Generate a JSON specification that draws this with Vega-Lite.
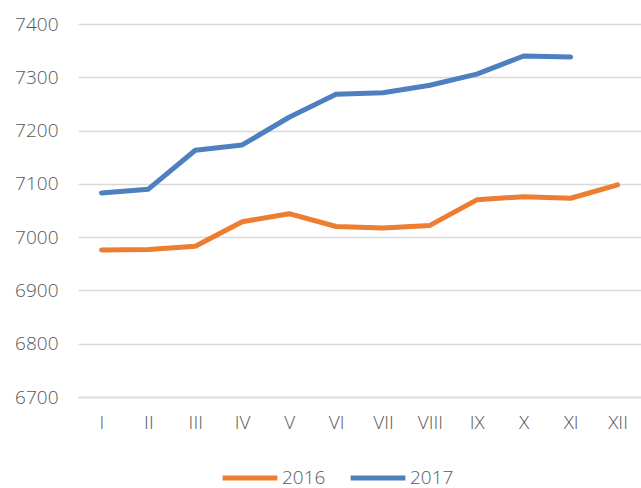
{
  "$schema": "https://vega.github.io/schema/vega-lite/v6.json",
  "width": 563,
  "height": 373,
  "autosize": {"type": "none"},
  "padding": {"left": 78, "top": 24, "right": 0, "bottom": 91},
  "background": "white",
  "config": {
    "view": {"stroke": null},
    "font": "Open Sans",
    "axis": {"labelFont": "Open Sans", "labelFontWeight": 300, "labelColor": "#595959", "labelFontSize": 19, "ticks": false, "title": null}
  },
  "data": {
    "values": [
      {"m": "I", "year": "2016", "v": 6976},
      {"m": "II", "year": "2016", "v": 6977},
      {"m": "III", "year": "2016", "v": 6983},
      {"m": "IV", "year": "2016", "v": 7029},
      {"m": "V", "year": "2016", "v": 7044},
      {"m": "VI", "year": "2016", "v": 7020},
      {"m": "VII", "year": "2016", "v": 7017},
      {"m": "VIII", "year": "2016", "v": 7022},
      {"m": "IX", "year": "2016", "v": 7070},
      {"m": "X", "year": "2016", "v": 7076},
      {"m": "XI", "year": "2016", "v": 7073},
      {"m": "XII", "year": "2016", "v": 7098},
      {"m": "I", "year": "2017", "v": 7083},
      {"m": "II", "year": "2017", "v": 7090},
      {"m": "III", "year": "2017", "v": 7163},
      {"m": "IV", "year": "2017", "v": 7173},
      {"m": "V", "year": "2017", "v": 7225},
      {"m": "VI", "year": "2017", "v": 7268},
      {"m": "VII", "year": "2017", "v": 7271},
      {"m": "VIII", "year": "2017", "v": 7285},
      {"m": "IX", "year": "2017", "v": 7306},
      {"m": "X", "year": "2017", "v": 7340},
      {"m": "XI", "year": "2017", "v": 7338}
    ]
  },
  "mark": {"type": "line", "strokeWidth": 5, "strokeCap": "round", "strokeJoin": "round"},
  "encoding": {
    "x": {
      "field": "m", "type": "ordinal",
      "sort": ["I","II","III","IV","V","VI","VII","VIII","IX","X","XI","XII"],
      "scale": {"paddingInner": 0, "paddingOuter": 0.5},
      "axis": {"labelAngle": 0, "domainColor": "#d9d9d9", "domainWidth": 1.5, "labelPadding": 16, "grid": false}
    },
    "y": {
      "field": "v", "type": "quantitative",
      "scale": {"domain": [6700, 7400], "zero": false},
      "axis": {"values": [6700,6800,6900,7000,7100,7200,7300,7400], "format": "d", "domain": false, "grid": true, "gridColor": "#d9d9d9", "gridWidth": 1.5, "labelPadding": 20}
    },
    "color": {
      "field": "year", "type": "nominal",
      "scale": {"domain": ["2016", "2017"], "range": ["#ED7D31", "#4E80BF"]},
      "legend": {
        "title": null, "orient": "none", "direction": "horizontal", "legendX": 142, "legendY": 424,
        "symbolType": "stroke", "symbolSize": 3000, "symbolStrokeWidth": 5,
        "labelFontSize": 19, "labelFont": "Open Sans", "labelFontWeight": 300, "labelColor": "#595959",
        "labelOffset": 2, "columnPadding": 14
      }
    }
  }
}
